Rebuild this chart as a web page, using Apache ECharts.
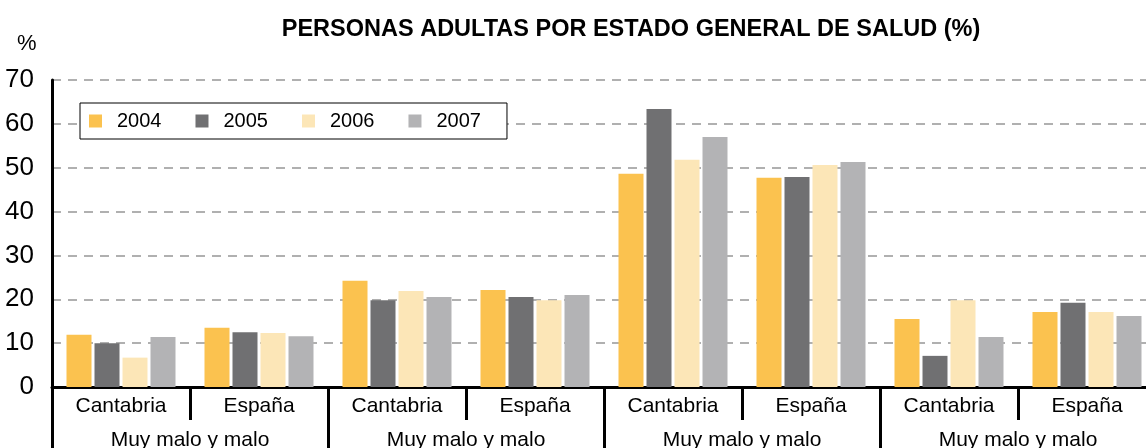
<!DOCTYPE html>
<html lang="es">
<head>
  <meta charset="UTF-8">
  <title>Personas adultas por estado general de salud</title>
  <script src="https://cdn.jsdelivr.net/npm/echarts@6/dist/echarts.min.js"></script>
  <style>
    html, body { margin: 0; padding: 0; background: #fff; }
    #chart { width: 1146px; height: 448px; }
  </style>
</head>
<body>
  <div id="chart"></div>
  <script>
    // categorías: región (nivel 1) y estado de salud (nivel 2)
    const regiones = ['Cantabria', 'España', 'Cantabria', 'España', 'Cantabria', 'España', 'Cantabria', 'España'];
    const estados = ['Muy malo y malo', 'Muy malo y malo', 'Muy malo y malo', 'Muy malo y malo'];
    const anios = ['2004', '2005', '2006', '2007'];

    // valores (%)
    const v2004 = [11.9, 13.5, 24.2, 22.1, 48.6, 47.7, 15.5, 17.1];
    const v2005 = [10.0, 12.5, 19.8, 20.5, 63.4, 47.9, 7.1, 19.2];
    const v2006 = [6.7, 12.3, 21.9, 19.8, 51.8, 50.6, 19.8, 17.1];
    const v2007 = [11.4, 11.6, 20.5, 21.0, 57.0, 51.3, 11.4, 16.2];

    const yTicks = [0, 10, 20, 30, 40, 50, 60, 70];

    const colores = ['#FBC24F', '#707072', '#FCE6B7', '#B3B3B5'];
    const fuente = 'Liberation Sans';

    const chart = echarts.init(document.getElementById('chart'));

    const serie = (name, data, color) => ({
      name: name,
      type: 'bar',
      data: data,
      barWidth: 25,
      barGap: '12%',
      itemStyle: { color: color },
      xAxisIndex: 0
    });

    chart.setOption({
      animation: false,
      backgroundColor: '#fff',
      title: [
        {
          text: 'PERSONAS ADULTAS POR ESTADO GENERAL DE SALUD (%)',
          left: 626,
          textAlign: 'center',
          top: 13,
          textStyle: { fontFamily: fuente, fontSize: 23.5, fontWeight: 'bold', color: '#000' }
        },
        {
          text: '%',
          left: 12,
          top: 28,
          textStyle: { fontFamily: fuente, fontSize: 22, fontWeight: 'normal', color: '#000' }
        }
      ],
      legend: {
        data: anios,
        left: 80,
        top: 103,
        padding: [8, 26, 8, 9],
        itemWidth: 13,
        itemHeight: 13,
        itemGap: 34,
        icon: 'rect',
        borderColor: '#000',
        borderWidth: 1,
        backgroundColor: '#fff',
        textStyle: { fontFamily: fuente, fontSize: 20, color: '#000', padding: [0, 0, 0, 10] }
      },
      grid: {
        left: 52, right: -10, top: 80, bottom: 61,
        containLabel: false,
        outerBoundsMode: 'none'
      },
      xAxis: [
        {
          type: 'category',
          data: regiones,
          position: 'bottom',
          axisLine: { lineStyle: { color: '#000', width: 3 } },
          axisTick: { show: true, interval: 0, length: 33, lineStyle: { color: '#000', width: 3 } },
          axisLabel: { interval: 0, margin: 9, fontFamily: fuente, fontSize: 21, color: '#000' }
        },
        {
          type: 'category',
          data: estados,
          position: 'bottom',
          axisLine: { show: false },
          axisTick: { show: true, interval: 0, length: 70, lineStyle: { color: '#000', width: 3 } },
          axisLabel: { interval: 0, margin: 43, fontFamily: fuente, fontSize: 21, color: '#000' }
        }
      ],
      yAxis: {
        type: 'value',
        min: yTicks[0],
        max: yTicks[yTicks.length - 1],
        interval: 10,
        axisLine: { show: true, lineStyle: { color: '#000', width: 3 } },
        axisTick: { show: false },
        axisLabel: { margin: 18, fontFamily: fuente, fontSize: 26, color: '#000' },
        splitLine: { lineStyle: { color: '#B0B0B0', width: 2, type: [9, 7] } }
      },
      series: [
        serie(anios[0], v2004, colores[0]),
        serie(anios[1], v2005, colores[1]),
        serie(anios[2], v2006, colores[2]),
        serie(anios[3], v2007, colores[3])
      ]
    });
  </script>
</body>
</html>
